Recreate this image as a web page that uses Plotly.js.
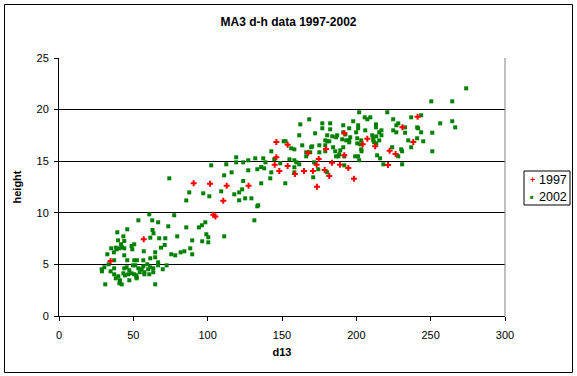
<!DOCTYPE html>
<html>
<head>
<meta charset="utf-8">
<script src="https://cdn.plot.ly/plotly-3.0.1.min.js"></script>
<style>
html,body{margin:0;padding:0;background:#fff;}
#chart{width:577px;height:376px;}
</style>
</head>
<body>
<div id="chart"></div>
<script>
// ---- Data ----
var title = "MA3 d-h data 1997-2002";
var xTitle = "d13";
var yTitle = "height";
var seriesNames = ["1997", "2002"];

var d13_1997 = [34.7, 57.0, 90.6, 101.6, 112.8, 127.5, 110.5, 103.8, 105.2, 146.2,
  153.8, 146.2, 145.1, 148.2, 153.8, 167.6, 179.6, 191.9, 191.9, 174.7,
  204.3, 212.7, 207.4, 173.3, 183.6, 189.0, 194.6, 178.7, 164.8, 170.8,
  158.7, 181.8, 198.4, 173.5, 241.2, 231.0, 238.3, 222.4, 226.4, 221.3];
var height_1997 = [5.33, 7.43, 12.86, 12.82, 12.63, 12.63, 11.17, 9.82, 9.65, 16.86,
  16.60, 15.38, 14.66, 14.05, 14.53, 15.82, 16.18, 15.57, 17.70, 15.21,
  16.64, 16.44, 17.18, 14.66, 14.86, 14.66, 14.34, 14.15, 14.05, 14.05,
  13.76, 13.57, 13.30, 12.53, 19.31, 18.28, 16.86, 16.02, 15.70, 14.63];

var d13_2002 = [
  85.6, 101.1, 53.4, 60.7, 62.7, 66.7, 77.5, 73.5, 62.9, 63.6,
  45.9, 39.2, 43.3, 39.7, 43.9, 50.6, 48.8, 61.4, 67.4, 71.5,
  68.6, 71.1, 79.5, 85.6, 89.6, 94.1, 96.1, 98.4, 99.1, 100.4,
  96.3, 100.4, 88.3, 89.6, 84.3, 81.8, 78.2, 75.5, 64.7, 57.0,
  49.3, 35.1, 38.2, 38.8, 40.6, 42.4, 43.9, 41.7, 36.9, 32.5,
  43.9, 45.9, 37.1, 33.4, 28.7, 30.5, 28.9, 34.7, 37.1, 37.1,
  39.9, 38.2, 41.0, 40.6, 42.2, 31.1, 43.3, 43.9, 45.5, 47.3,
  46.6, 48.8, 50.6, 52.2, 47.3, 51.9, 54.3, 53.4, 55.6, 56.7,
  51.3, 49.7, 50.6, 52.4, 56.7, 59.4, 61.4, 64.7, 66.7, 66.7,
  63.4, 61.4, 60.0, 57.4, 57.4, 60.7, 63.4, 69.8, 72.4, 64.7,
  52.2, 44.4,
  151.1, 142.8, 119.2, 119.2, 112.5, 102.4, 123.9, 127.3, 132.0, 137.4,
  138.9, 144.8, 148.8, 155.0, 136.0, 133.4, 138.0, 127.3, 142.8, 111.1,
  116.1, 142.1, 74.2, 123.9, 136.0, 152.2, 123.2, 121.2, 117.9, 109.1,
  97.0, 87.6, 125.2, 129.4, 121.2, 134.0, 133.4, 131.4, 111.1,
  201.9, 205.6, 207.4, 209.4, 168.3, 197.9, 213.2, 213.2, 201.2, 201.2,
  177.1, 182.4, 162.3, 191.2, 177.1, 182.4, 195.2, 199.9, 206.0, 172.3,
  191.2, 192.6, 180.4, 187.1, 161.6, 183.8, 186.4, 195.9, 210.7, 213.4,
  211.4, 215.4, 190.5, 193.2, 195.2, 195.2, 200.6, 203.3, 152.4, 179.1,
  181.8, 180.4, 200.6, 202.6, 212.0, 213.4, 175.1, 163.6, 170.3, 179.1,
  191.2, 184.4, 156.2, 158.3, 169.6, 166.3, 166.3, 169.0, 175.1, 179.1,
  185.8, 189.2, 188.5, 187.9, 186.4, 191.9, 199.2, 201.2, 201.9, 203.5,
  214.0, 203.3, 158.3, 159.6, 161.6, 171.6, 174.4, 180.4, 191.9, 158.3,
  158.3, 171.0,
  273.9, 250.4, 264.5, 220.8, 243.6, 236.9, 224.8, 228.2, 226.9, 256.4,
  264.5, 266.5, 240.9, 241.6, 232.8, 224.8, 226.9, 232.8, 243.6, 251.1,
  216.9, 216.9, 211.4, 215.4, 234.9, 240.9, 245.0, 236.9, 224.1, 230.2,
  230.8, 228.2, 251.1, 216.0, 218.2, 230.8];
var height_2002 = [
  11.20, 11.60, 9.27, 9.85, 9.27, 9.08, 9.76, 8.69, 8.33, 8.01,
  8.40, 8.11, 7.72, 7.33, 7.27, 6.95, 6.78, 7.59, 7.53, 7.53,
  6.62, 6.88, 7.72, 8.59, 7.33, 8.59, 8.79, 9.08, 7.92, 7.63,
  7.24, 7.14, 6.56, 5.98, 6.27, 6.17, 5.88, 5.98, 6.17, 6.27,
  6.46, 6.56, 6.62, 6.46, 6.56, 6.66, 6.56, 6.95, 6.17, 5.98,
  5.88, 5.40, 5.40, 5.01, 4.53, 4.72, 4.33, 4.33, 4.62, 4.04,
  3.85, 3.65, 3.46, 3.17, 3.07, 3.07, 4.14, 4.62, 4.72, 4.43,
  4.04, 4.14, 4.04, 3.75, 3.46, 3.94, 4.24, 4.62, 4.53, 4.82,
  4.91, 4.91, 5.40, 5.40, 5.40, 5.01, 5.59, 5.69, 5.20, 4.91,
  4.62, 4.72, 4.53, 4.24, 4.04, 4.04, 4.24, 4.53, 4.91, 3.07,
  3.65, 3.94,
  16.93, 15.96, 15.38, 14.89, 14.70, 14.60, 14.89, 15.09, 15.28, 15.28,
  14.89, 15.18, 14.80, 15.18, 14.44, 14.22, 14.31, 14.12, 13.92, 13.63,
  13.92, 13.34, 13.34, 13.08, 12.86, 12.86, 12.27, 11.98, 11.79, 12.08,
  11.89, 11.98, 11.40, 11.40, 11.21, 10.73, 10.63, 9.27, 7.72,
  19.74, 19.25, 19.06, 19.25, 19.06, 18.87, 18.57, 18.28, 18.48, 18.19,
  18.67, 18.67, 18.57, 18.48, 18.19, 18.09, 18.19, 17.80, 17.99, 17.70,
  17.80, 17.60, 17.51, 17.51, 17.51, 17.41, 17.32, 17.32, 17.51, 17.41,
  17.22, 17.80, 17.12, 17.02, 17.02, 16.83, 17.22, 17.02, 16.93, 17.02,
  16.93, 16.93, 16.73, 16.64, 16.83, 16.73, 16.54, 16.54, 16.44, 16.54,
  16.35, 16.35, 16.25, 16.15, 16.35, 15.86, 15.47, 15.86, 15.86, 15.96,
  15.96, 16.05, 15.67, 15.47, 15.47, 15.47, 15.47, 15.47, 15.09, 15.96,
  15.57, 16.15, 15.09, 14.89, 14.70, 14.89, 14.22, 13.92, 14.60, 14.41,
  13.92, 13.44,
  22.06, 20.80, 20.80, 19.74, 19.45, 19.25, 19.06, 18.67, 18.48, 18.67,
  18.87, 18.28, 18.28, 18.19, 18.28, 17.99, 17.80, 17.76, 17.80, 17.76,
  17.99, 17.51, 17.02, 17.02, 17.02, 17.22, 16.93, 16.35, 16.35, 16.15,
  15.96, 15.47, 15.96, 15.28, 14.70, 14.70];

var xTicks = [0, 50, 100, 150, 200, 250, 300];
var yTicks = [0, 5, 10, 15, 20, 25];

// ---- Chart ----
var FONT = "Arial, 'Liberation Sans', sans-serif";
var W = 577, H = 376;
var M = {l: 59, r: 72, t: 58, b: 60};
var PW = W - M.l - M.r, PH = H - M.t - M.b;
function px2x(px) { return (px - M.l) / PW; }
function px2y(py) { return (H - M.b - py) / PH; }

var traces = [
  {
    type: "scatter", mode: "markers", name: seriesNames[1],
    x: d13_2002, y: height_2002,
    marker: {symbol: "square", size: 4, color: "#008000", line: {width: 0}},
    hoverinfo: "skip"
  },
  {
    type: "scatter", mode: "markers", name: seriesNames[0],
    x: d13_1997, y: height_1997,
    marker: {symbol: "cross", size: 5, color: "#FF0000", line: {width: 0}},
    hoverinfo: "skip"
  }
];

// Legend (Excel-style compact box, built from the series names)
var legendBox = {x0: 524, x1: 570, y0: 171, y1: 205};
var legendRows = [
  {name: seriesNames[0], glyph: "<b>+</b>", color: "#FF0000", size: 9, py: 180},
  {name: seriesNames[1], glyph: "■", color: "#008000", size: 6, py: 196.5}
];
var annotations = [];
legendRows.forEach(function (r) {
  annotations.push({xref: "paper", yref: "paper", x: px2x(532), y: px2y(r.py),
    text: r.glyph, showarrow: false, xanchor: "center", yanchor: "middle",
    font: {family: FONT, size: r.size, color: r.color}});
  annotations.push({xref: "paper", yref: "paper", x: px2x(537), y: px2y(r.py),
    text: r.name, showarrow: false, xanchor: "left", yanchor: "middle",
    font: {family: FONT, size: 12.5, color: "#000"}});
});

var layout = {
  width: W, height: H,
  margin: {l: M.l, r: M.r, t: M.t, b: M.b, pad: 0},
  paper_bgcolor: "#ffffff", plot_bgcolor: "#ffffff",
  font: {family: FONT, size: 11, color: "#000"},
  showlegend: false,
  title: {
    text: "<b>" + title + "</b>",
    font: {family: FONT, size: 12, color: "#000"},
    x: 0.5, xref: "container", xanchor: "center",
    y: 1 - 22 / H, yref: "container", yanchor: "middle"
  },
  xaxis: {
    range: [0, 300], tickvals: xTicks, ticktext: xTicks.map(String),
    ticks: "outside", ticklen: 4, tickcolor: "#000", tickwidth: 1,
    showline: true, linecolor: "#000", linewidth: 1,
    showgrid: false, zeroline: false, fixedrange: true,
    ticklabelstandoff: 5,
    tickfont: {family: FONT, size: 11, color: "#000"},
    title: {text: "<b>" + xTitle + "</b>", font: {family: FONT, size: 11, color: "#000"}, standoff: 8}
  },
  yaxis: {
    range: [0, 25], tickvals: yTicks, ticktext: yTicks.map(String),
    ticks: "outside", ticklen: 4, tickcolor: "#000", tickwidth: 1,
    showline: true, linecolor: "#000", linewidth: 1,
    showgrid: true, gridcolor: "#000", gridwidth: 1,
    zeroline: false, fixedrange: true,
    ticklabelstandoff: 3,
    tickfont: {family: FONT, size: 11, color: "#000"},
    title: {text: "<b>" + yTitle + "</b>", font: {family: FONT, size: 11, color: "#000"}, standoff: 12}
  },
  annotations: annotations,
  shapes: [
    // plot-area right border (grey)
    {type: "line", xref: "paper", yref: "paper", x0: 1, x1: 1, y0: 0, y1: 1,
     line: {color: "#808080", width: 1}},
    // legend box
    {type: "rect", xref: "paper", yref: "paper",
     x0: px2x(legendBox.x0), x1: px2x(legendBox.x1),
     y0: px2y(legendBox.y1), y1: px2y(legendBox.y0),
     line: {color: "#000", width: 1}, fillcolor: "#fff", layer: "below"},
    // chart-area border
    {type: "rect", xref: "paper", yref: "paper",
     x0: px2x(4.5), x1: px2x(572.5), y0: px2y(372.5), y1: px2y(4.5),
     line: {color: "#000", width: 1}, fillcolor: "rgba(0,0,0,0)", layer: "above"}
  ]
};

Plotly.newPlot("chart", traces, layout, {displayModeBar: false, staticPlot: true});
</script>
</body>
</html>
